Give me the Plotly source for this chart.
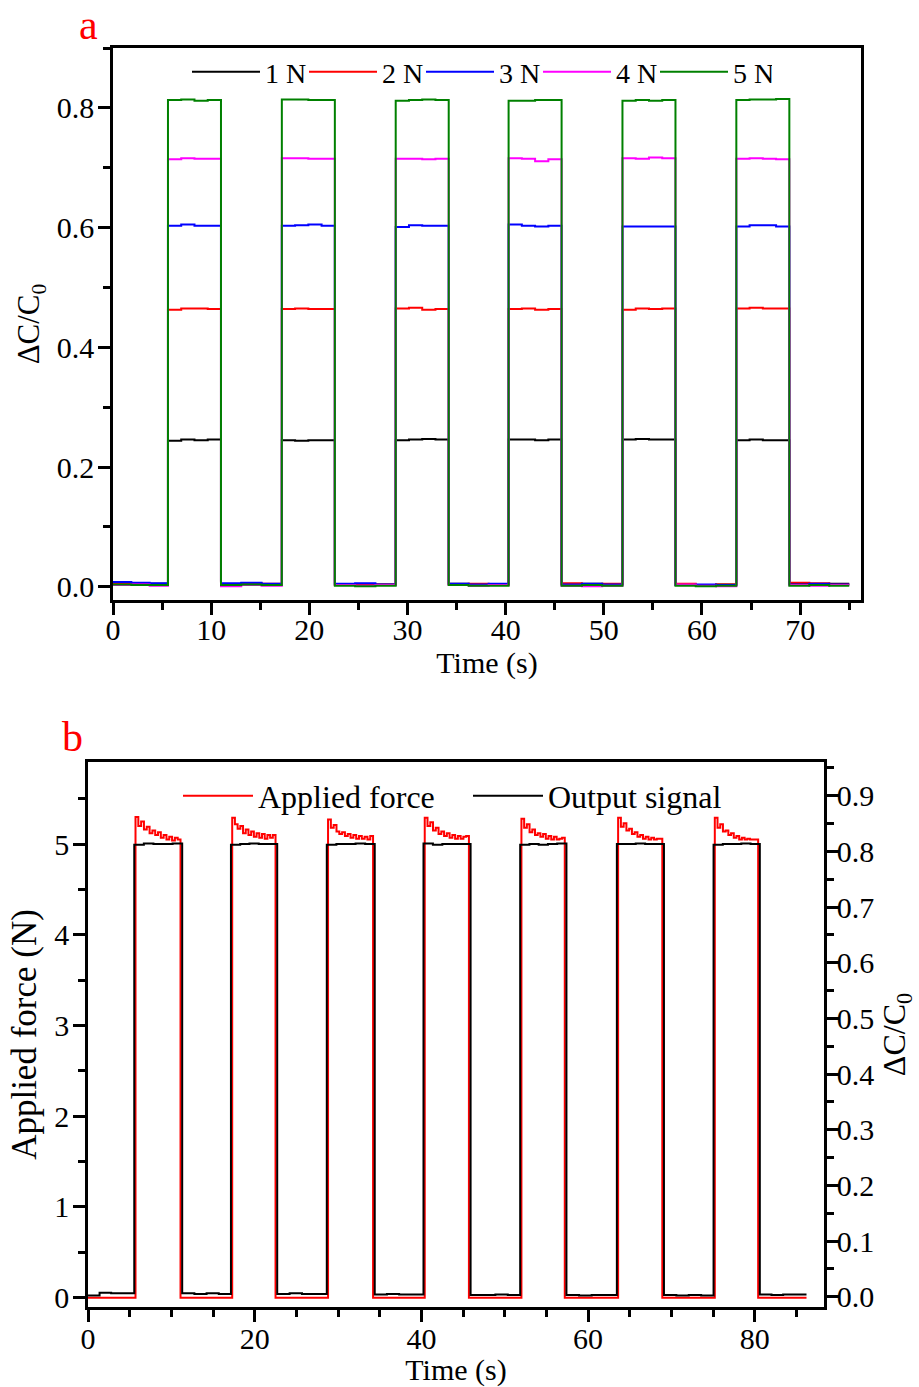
import plotly.graph_objects as go

FONT = "Liberation Serif"

# ---------------- Panel a data ----------------
series_names_a = ["1 N", "2 N", "3 N", "4 N", "5 N"]
series_colors_a = ["#000000", "#ff0000", "#0000ff", "#ff00ff", "#008000"]
t_on_a = [5.6, 17.2, 28.8, 40.3, 51.9, 63.5]
t_off_a = [11.0, 22.6, 34.2, 45.7, 57.3, 68.9]
t_start_a = 0.0
t_end_a = 75.0

plateau_1N = [[0.244, 0.246, 0.245, 0.246], [0.245, 0.244, 0.245, 0.245], [0.245, 0.246, 0.247, 0.246],
              [0.246, 0.246, 0.245, 0.246], [0.246, 0.247, 0.246, 0.246], [0.245, 0.246, 0.245, 0.245]]
plateau_2N = [[0.463, 0.465, 0.465, 0.464], [0.464, 0.465, 0.464, 0.464], [0.465, 0.466, 0.463, 0.464],
              [0.464, 0.465, 0.463, 0.464], [0.463, 0.465, 0.464, 0.465], [0.465, 0.466, 0.465, 0.465]]
plateau_3N = [[0.603, 0.605, 0.603, 0.603], [0.603, 0.604, 0.605, 0.603], [0.601, 0.604, 0.603, 0.603],
              [0.605, 0.603, 0.602, 0.603], [0.602, 0.602, 0.602, 0.602], [0.602, 0.604, 0.604, 0.602]]
plateau_4N = [[0.714, 0.716, 0.715, 0.715], [0.716, 0.716, 0.715, 0.715], [0.715, 0.715, 0.714, 0.715],
              [0.716, 0.715, 0.711, 0.714], [0.716, 0.715, 0.717, 0.716], [0.715, 0.716, 0.715, 0.714]]
plateau_5N = [[0.813, 0.814, 0.812, 0.813], [0.814, 0.814, 0.813, 0.813], [0.812, 0.813, 0.814, 0.813],
              [0.812, 0.812, 0.813, 0.813], [0.812, 0.813, 0.812, 0.813], [0.813, 0.814, 0.814, 0.815]]

base_1N = [[0.005, 0.004, 0.005], [0.004, 0.005, 0.004], [0.004, 0.003, 0.004], [0.005, 0.004, 0.004],
           [0.004, 0.005, 0.004], [0.004, 0.003, 0.004], [0.005, 0.004, 0.005]]
base_2N = [[0.006, 0.005, 0.004], [0.004, 0.006, 0.005], [0.003, 0.004, 0.004], [0.004, 0.005, 0.004],
           [0.006, 0.004, 0.005], [0.005, 0.003, 0.004], [0.007, 0.006, 0.004]]
base_3N = [[0.008, 0.007, 0.006], [0.006, 0.007, 0.005], [0.005, 0.006, 0.004], [0.005, 0.004, 0.005],
           [0.004, 0.005, 0.004], [0.003, 0.004, 0.003], [0.004, 0.005, 0.004]]
base_4N = [[0.003, 0.004, 0.002], [0.001, 0.003, 0.002], [0.003, 0.002, 0.003], [0.003, 0.002, 0.003],
           [0.002, 0.001, 0.002], [0.004, 0.002, 0.001], [0.003, 0.002, 0.003]]
base_5N = [[0.004, 0.003, 0.003], [0.003, 0.004, 0.003], [0.002, 0.001, 0.002], [0.003, 0.002, 0.002],
           [0.002, 0.003, 0.002], [0.002, 0.001, 0.002], [0.002, 0.003, 0.002]]

plateaus_a = [plateau_1N, plateau_2N, plateau_3N, plateau_4N, plateau_5N]
bases_a = [base_1N, base_2N, base_3N, base_4N, base_5N]

# ---------------- Panel b data ----------------
t_on_force = [5.7, 17.3, 28.8, 40.4, 52.0, 63.6, 75.2]
t_off_force = [11.1, 22.5, 34.2, 45.7, 57.2, 68.9, 80.4]
t_on_signal = [5.55, 17.15, 28.65, 40.25, 51.85, 63.45, 75.05]
t_off_signal = [11.3, 22.7, 34.4, 45.9, 57.4, 69.1, 80.6]
t_start_b = 0.0
t_end_b = 86.2

force_plateaus = [
    [5.30, 5.20, 5.25, 5.16, 5.19, 5.12, 5.15, 5.10, 5.13, 5.07, 5.10, 5.05, 5.08, 5.04, 5.07, 5.05],
    [5.29, 5.22, 5.17, 5.20, 5.12, 5.16, 5.10, 5.14, 5.08, 5.12, 5.07, 5.11, 5.06, 5.10, 5.07, 5.10],
    [5.27, 5.18, 5.21, 5.14, 5.11, 5.13, 5.09, 5.11, 5.07, 5.10, 5.06, 5.09, 5.06, 5.08, 5.05, 5.09],
    [5.29, 5.20, 5.24, 5.15, 5.18, 5.11, 5.14, 5.09, 5.12, 5.07, 5.10, 5.06, 5.09, 5.06, 5.08, 5.09],
    [5.28, 5.18, 5.22, 5.13, 5.16, 5.10, 5.12, 5.08, 5.11, 5.06, 5.09, 5.05, 5.08, 5.05, 5.06, 5.07],
    [5.29, 5.19, 5.23, 5.15, 5.17, 5.11, 5.13, 5.08, 5.10, 5.06, 5.08, 5.05, 5.07, 5.05, 5.06, 5.06],
    [5.29, 5.18, 5.22, 5.14, 5.15, 5.10, 5.12, 5.07, 5.09, 5.05, 5.07, 5.05, 5.06, 5.05, 5.05, 5.05],
]
force_bases = [[0.0, 0.0], [0.0, 0.0], [0.0, 0.0], [0.0, 0.0], [0.0, 0.0], [0.0, 0.0], [0.0, 0.0], [0.0, 0.0]]

signal_plateaus = [
    [0.812, 0.814, 0.813, 0.813, 0.814], [0.812, 0.813, 0.814, 0.813, 0.813],
    [0.812, 0.813, 0.813, 0.814, 0.813], [0.814, 0.812, 0.813, 0.813, 0.813],
    [0.812, 0.813, 0.812, 0.813, 0.814], [0.813, 0.813, 0.814, 0.813, 0.813],
    [0.812, 0.813, 0.813, 0.814, 0.813],
]
signal_bases = [[0.002, 0.007, 0.006, 0.006], [0.006, 0.005, 0.006, 0.005], [0.005, 0.006, 0.005, 0.005],
                [0.004, 0.005, 0.004, 0.004], [0.003, 0.003, 0.004, 0.003], [0.003, 0.002, 0.003, 0.003],
                [0.003, 0.002, 0.003, 0.002], [0.004, 0.003, 0.004, 0.004]]


def build_steps(t_on, t_off, t_start, t_end, bases, plateaus):
    """Assemble a step trace from read on/off times, baseline and plateau readings."""
    xs, ys = [], []
    gap_starts = [t_start] + list(t_off)
    gap_ends = list(t_on) + [t_end]
    for i in range(len(gap_starts)):
        g0, g1 = gap_starts[i], gap_ends[i]
        vals = bases[i]
        for k, v in enumerate(vals):
            xs.append(g0 + (g1 - g0) * k / len(vals))
            ys.append(v)
        if i < len(plateaus):
            pv = plateaus[i]
            p0, p1 = t_on[i], t_off[i]
            for k, v in enumerate(pv):
                xs.append(p0 + (p1 - p0) * k / len(pv))
                ys.append(v)
    xs.append(t_end)
    ys.append(bases[-1][-1])
    return xs, ys


fig = go.Figure()

for name, color, plat, base in zip(series_names_a, series_colors_a, plateaus_a, bases_a):
    x, y = build_steps(t_on_a, t_off_a, t_start_a, t_end_a, base, plat)
    fig.add_trace(go.Scatter(x=x, y=y, mode="lines", name=name, line=dict(color=color, width=2, shape="hv"),
                             xaxis="x", yaxis="y", legend="legend"))

xf, yf = build_steps(t_on_force, t_off_force, t_start_b, t_end_b, force_bases, force_plateaus)
fig.add_trace(go.Scatter(x=xf, y=yf, mode="lines", name="Applied force",
                         line=dict(color="#ff0000", width=2, shape="hv"),
                         xaxis="x2", yaxis="y2", legend="legend2"))
xs_, ys_ = build_steps(t_on_signal, t_off_signal, t_start_b, t_end_b, signal_bases, signal_plateaus)
fig.add_trace(go.Scatter(x=xs_, y=ys_, mode="lines", name="Output signal",
                         line=dict(color="#000000", width=2, shape="hv"),
                         xaxis="x2", yaxis="y3", legend="legend2"))

W, H = 919, 1387
tickfont = dict(family=FONT, size=30, color="black")
titlefont = dict(family=FONT, size=30, color="black")

common = dict(showgrid=False, zeroline=False, showline=True, linecolor="black", linewidth=2.5,
              ticks="outside", ticklen=12, tickwidth=2.5, tickcolor="black", tickfont=tickfont,
              automargin=False)
minor_common = dict(ticks="outside", ticklen=7, tickwidth=2.5, tickcolor="black", showgrid=False)

fig.update_layout(
    width=W, height=H,
    margin=dict(l=0, r=0, t=0, b=0),
    paper_bgcolor="white", plot_bgcolor="white",
    font=dict(family=FONT, color="black"),
    xaxis=dict(domain=[113 / W, 861 / W], anchor="y", range=[0, 76.2], tick0=0, dtick=10,
               minor=dict(dtick=5, **minor_common), mirror=True, ticklabelstandoff=-11,
               title=dict(text="Time (s)", font=titlefont, standoff=4), **common),
    yaxis=dict(domain=[1 - 600 / H, 1 - 48 / H], anchor="x", range=[-0.022, 0.9], tick0=0, dtick=0.2,
               tickformat=".1f", minor=dict(dtick=0.1, **minor_common), mirror=True, ticklabelstandoff=-2,
               title=dict(text="ΔC/C<sub>0</sub>", font=dict(family=FONT, size=31, color="black"), standoff=8),
               **common),
    xaxis2=dict(domain=[88 / W, 824 / W], anchor="y2", range=[0, 88.3], tick0=0, dtick=20,
                minor=dict(dtick=5, **minor_common), mirror=True, ticklabelstandoff=-9,
                title=dict(text="Time (s)", font=titlefont, standoff=2), **common),
    yaxis2=dict(domain=[1 - 1307 / H, 1 - 762 / H], anchor="x2", range=[-0.103, 5.905], tick0=0, dtick=1,
                minor=dict(dtick=0.5, **minor_common), ticklabelstandoff=-2,
                title=dict(text="Applied force (N)", font=dict(family=FONT, size=35, color="black"),
                           standoff=8), **common),
    yaxis3=dict(domain=[1 - 1307 / H, 1 - 762 / H], anchor="x2", overlaying="y2", side="right",
                range=[-0.0185, 0.9605], tick0=0, dtick=0.1, tickformat=".1f",
                minor=dict(dtick=0.05, **minor_common), ticklabelstandoff=-8,
                title=dict(text="ΔC/C<sub>0</sub>", font=dict(family=FONT, size=32, color="black"),
                           standoff=10), **common),
    legend=dict(orientation="h", x=187 / W, y=1 - 72 / H, xanchor="left", yanchor="middle",
                font=dict(family=FONT, size=28, color="black"), bgcolor="rgba(0,0,0,0)",
                entrywidth=34, entrywidthmode="pixels", itemwidth=68, tracegroupgap=0),
    legend2=dict(orientation="h", x=178 / W, y=1 - 796 / H, xanchor="left", yanchor="middle",
                 font=dict(family=FONT, size=32, color="black"), bgcolor="rgba(0,0,0,0)",
                 entrywidth=205, entrywidthmode="pixels", itemwidth=70),
    annotations=[
        dict(text="a", x=88 / W, y=1.0, xref="paper", yref="paper", showarrow=False,
             font=dict(family=FONT, size=42, color="#ff0000"), xanchor="center", yanchor="top"),
        dict(text="b", x=72 / W, y=1 - 737 / H, xref="paper", yref="paper", showarrow=False,
             font=dict(family=FONT, size=42, color="#ff0000"), xanchor="center", yanchor="middle"),
    ],
)

fig.write_html("out.html")
